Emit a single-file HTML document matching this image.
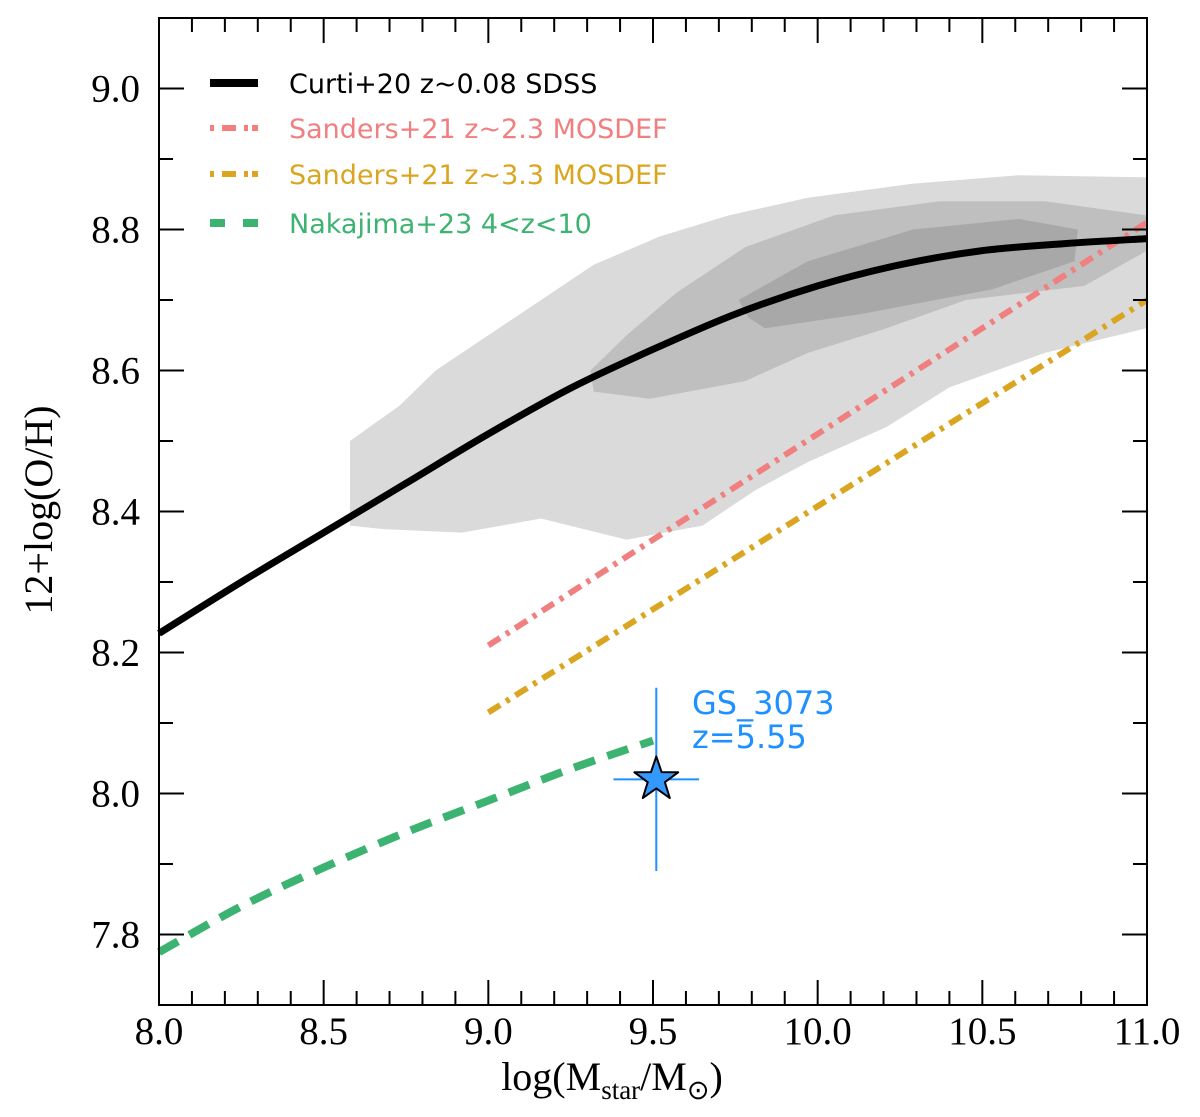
<!DOCTYPE html>
<html><head><meta charset="utf-8"><style>
body{margin:0;background:#fff;}
svg{display:block;}
.tick{font-family:"Liberation Serif",serif;font-size:39px;fill:#000;}
.leg{font-family:"DejaVu Sans","Liberation Sans",sans-serif;font-size:27px;}
</style></head><body>
<svg id="chart" width="1200" height="1117" viewBox="0 0 1200 1117" xmlns="http://www.w3.org/2000/svg">
<g id="contours"></g>
<g id="lines"></g>
<g id="point"></g>
<g id="axes"></g>
<g id="legend"></g>
<text transform="translate(52,510) rotate(-90)" text-anchor="middle" style="font-family:'Liberation Serif',serif;font-size:40px">12+log(O/H)</text>
<text x="612" y="1090" text-anchor="middle" style="font-family:'Liberation Serif',serif;font-size:40px">log(M<tspan font-size="27" dy="9">star</tspan><tspan dy="-9">/M</tspan><tspan font-size="27" dy="9">⊙</tspan><tspan dy="-9">)</tspan></text>
</svg>
<script>
const xTicks=[8.0,8.5,9.0,9.5,10.0,10.5,11.0];
const yTicks=[7.8,8.0,8.2,8.4,8.6,8.8,9.0];
const curtiX=[8.0,8.25,8.5,8.75,9.0,9.25,9.5,9.75,10.0,10.25,10.5,10.75,11.0];
const curtiY=[8.227,8.30,8.37,8.44,8.51,8.575,8.63,8.68,8.72,8.75,8.77,8.78,8.787];
const s23X=[9.0,11.0]; const s23Y=[8.21,8.81];
const s33X=[9.0,11.0]; const s33Y=[8.115,8.70];
const nakX=[8.0,8.25,8.5,8.75,9.0,9.25,9.5]; const nakY=[7.775,7.84,7.895,7.945,7.99,8.035,8.075];
const outerX=[8.58,8.58,8.73,8.84,9.00,9.16,9.32,9.52,9.73,9.97,10.29,10.61,11.0,11.0,10.69,10.40,10.21,9.97,9.81,9.65,9.42,9.16,8.92,8.68];
const outerY=[8.38,8.50,8.55,8.60,8.65,8.70,8.75,8.79,8.82,8.845,8.865,8.877,8.874,8.66,8.625,8.576,8.52,8.47,8.43,8.38,8.36,8.39,8.37,8.375];
const midX=[9.31,9.42,9.57,9.78,10.05,10.37,10.69,11.0,11.0,10.81,10.45,10.21,9.97,9.78,9.49,9.32];
const midY=[8.60,8.65,8.71,8.775,8.82,8.84,8.84,8.82,8.77,8.72,8.70,8.66,8.625,8.585,8.56,8.57];
const inX=[9.76,9.97,10.29,10.61,10.79,10.78,10.53,10.13,9.84,9.79];
const inY=[8.70,8.755,8.80,8.815,8.80,8.755,8.715,8.68,8.66,8.675];
const ptX=[9.51]; const ptY=[8.02]; const ptXerr=[0.13]; const ptYerr=[0.13];
const NS='http://www.w3.org/2000/svg';
const X0=159,X1=1147,Y0=18,Y1=1005;
const sx=v=>X0+(v-8.0)/3.0*(X1-X0);
const sy=v=>Y1-(v-7.7)/1.4*(Y1-Y0);
function mk(tag,attrs,parent){const e=document.createElementNS(NS,tag);for(const k in attrs)e.setAttribute(k,attrs[k]);parent.appendChild(e);return e;}
const cg=document.getElementById('contours');
function poly(xs,ys,fill,name){const p=mk('polygon',{points:xs.map((x,i)=>sx(x)+','+sy(ys[i])).join(' '),fill:fill},cg);

}
poly(outerX,outerY,'#dadada','contour-outer');
poly(midX,midY,'#bfbfbf','contour-mid');
poly(inX,inY,'#a8a8a8','contour-inner');
const lg=document.getElementById('lines');
function smooth(xs,ys){const P=xs.map((x,i)=>[sx(x),sy(ys[i])]);let d='M'+P[0][0]+','+P[0][1];
for(let i=0;i<P.length-1;i++){const p0=P[Math.max(0,i-1)],p1=P[i],p2=P[i+1],p3=P[Math.min(P.length-1,i+2)];
d+=' C'+(p1[0]+(p2[0]-p0[0])/6)+','+(p1[1]+(p2[1]-p0[1])/6)+' '+(p2[0]-(p3[0]-p1[0])/6)+','+(p2[1]-(p3[1]-p1[1])/6)+' '+p2[0]+','+p2[1];}return d;}
function line(xs,ys,color,w,dash,name){const p=mk('path',{d:smooth(xs,ys),fill:'none',stroke:color,'stroke-width':w,'stroke-dasharray':dash},lg);

}
line(s23X,s23Y,'#f08080',6,'14,7,4,7','sanders-z2.3-line');
line(s33X,s33Y,'#daa520',6,'14,7,4,7','sanders-z3.3-line');
line(nakX,nakY,'#3cb371',8,'22,13','nakajima-line');
line(curtiX,curtiY,'#000',7,'none','curti-line');
const pg=document.getElementById('point');
const px=sx(ptX[0]),py=sy(ptY[0]);
const eb1=mk('line',{x1:sx(ptX[0]-ptXerr[0]),x2:sx(ptX[0]+ptXerr[0]),y1:py,y2:py,stroke:'#1e90ff','stroke-width':2},pg);


const eb2=mk('line',{x1:px,x2:px,y1:sy(ptY[0]+ptYerr[0]),y2:sy(ptY[0]-ptYerr[0]),stroke:'#1e90ff','stroke-width':2},pg);


let pts=[];for(let i=0;i<10;i++){const r=i%2?9:23,a=-Math.PI/2+i*Math.PI/5;pts.push((px+r*Math.cos(a))+','+(py+r*Math.sin(a)));}
const st=mk('polygon',{points:pts.join(' '),fill:'#3399ff',stroke:'#000','stroke-width':2,'stroke-linejoin':'round'},pg);


const t1=mk('text',{x:692,y:714,fill:'#1e90ff','font-size':32,'font-family':'DejaVu Sans, Liberation Sans, sans-serif'},pg);t1.textContent='GS_3073';


const t2=mk('text',{x:692,y:748,fill:'#1e90ff','font-size':32,'font-family':'DejaVu Sans, Liberation Sans, sans-serif'},pg);t2.textContent='z=5.55';


const ag=document.getElementById('axes');
const fr=mk('rect',{x:X0,y:Y0,width:X1-X0,height:Y1-Y0,fill:'none',stroke:'#000','stroke-width':2},ag);


for(let v=8.0;v<=11.001;v+=0.1){const x=sx(v);const maj=Math.abs(v*2-Math.round(v*2))<1e-6;const L=maj?25:14;
mk('line',{x1:x,x2:x,y1:Y1,y2:Y1-L,stroke:'#000','stroke-width':2},ag);mk('line',{x1:x,x2:x,y1:Y0,y2:Y0+L,stroke:'#000','stroke-width':2},ag);}
for(let v=7.7;v<=9.101;v+=0.1){const y=sy(v);const maj=Math.abs(v*5-Math.round(v*5))<1e-6;const L=maj?25:14;
mk('line',{x1:X0,x2:X0+L,y1:y,y2:y,stroke:'#000','stroke-width':2},ag);mk('line',{x1:X1,x2:X1-L,y1:y,y2:y,stroke:'#000','stroke-width':2},ag);}
xTicks.forEach(v=>{const t=mk('text',{x:sx(v),y:1044,'text-anchor':'middle',class:'tick'},ag);t.textContent=v.toFixed(1);

});
yTicks.forEach(v=>{const t=mk('text',{x:140,y:sy(v)+13,'text-anchor':'end',class:'tick'},ag);t.textContent=v.toFixed(1);

});
const leg=document.getElementById('legend');
const items=[['Curti+20 z~0.08 SDSS','#000','none',8,'curti'],['Sanders+21 z~2.3 MOSDEF','#f08080','4,8,14,8,4',6,'sanders-z2.3'],['Sanders+21 z~3.3 MOSDEF','#daa520','4,8,14,8,4',6,'sanders-z3.3'],['Nakajima+23 4<z<10','#3cb371','15,18',8,'nakajima']];
const ly=[83,128,174,223];
items.forEach((it,i)=>{mk('line',{x1:210,x2:258,y1:ly[i],y2:ly[i],stroke:it[1],'stroke-width':it[3],'stroke-dasharray':it[2]},leg);
const t=mk('text',{x:289,y:ly[i]+10,fill:it[1],class:'leg'},leg);t.textContent=it[0];

});
</script>
</body></html>
